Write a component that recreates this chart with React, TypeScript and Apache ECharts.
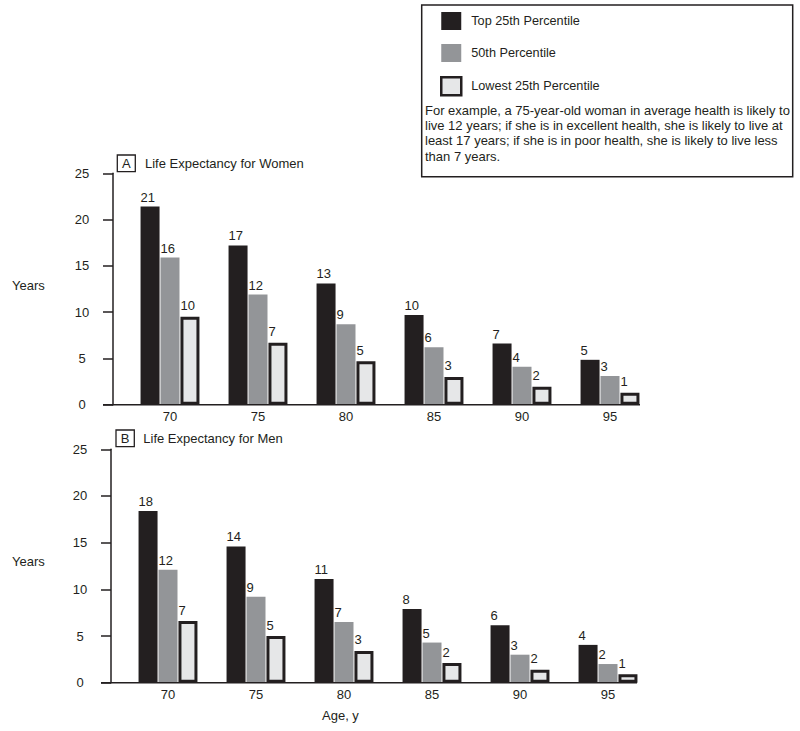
import React, { useEffect, useRef } from "react";
import * as echarts from "echarts";

const ages = ["70", "75", "80", "85", "90", "95"];

const seriesNames = ["Top 25th Percentile", "50th Percentile", "Lowest 25th Percentile"];

// bar heights
const womenTop = [21.4, 17.2, 13.1, 9.7, 6.6, 4.85];
const womenMid = [15.9, 11.9, 8.7, 6.2, 4.1, 3.1];
const womenLow = [9.5, 6.7, 4.7, 3.0, 1.95, 1.3];
const menTop = [18.4, 14.6, 11.1, 7.9, 6.15, 4.05];
const menMid = [12.1, 9.2, 6.5, 4.3, 3.0, 2.0];
const menLow = [6.6, 5.0, 3.4, 2.1, 1.4, 0.9];

// printed value labels
const womenTopLabels = [21, 17, 13, 10, 7, 5];
const womenMidLabels = [16, 12, 9, 6, 4, 3];
const womenLowLabels = [10, 7, 5, 3, 2, 1];
const menTopLabels = [18, 14, 11, 8, 6, 4];
const menMidLabels = [12, 9, 7, 5, 3, 2];
const menLowLabels = [7, 5, 3, 2, 2, 1];

const yTicks = [0, 25, 5]; // min, max, interval

const noteLines = [
  "For example, a 75-year-old woman in average health is likely to",
  "live 12 years; if she is in excellent health, she is likely to live at",
  "least 17 years; if she is in poor health, she is likely to live less",
  "than 7 years.",
];

const FONT = "'Liberation Sans', Arial, Helvetica, sans-serif";
const INK = "#231f20";
const GRAY = "#939598";
const LIGHT = "#e6e7e8";

export default function App() {
  const ref = useRef<HTMLDivElement>(null);

  useEffect(() => {
    document.body.style.margin = "0";
    const chart = echarts.init(ref.current!, null, { renderer: "svg" });

    const styles = [
      { color: INK },
      { color: GRAY },
      { color: LIGHT, borderColor: INK, borderWidth: 3 },
    ];

    const mkSeries = (
      name: string,
      idx: number,
      grid: number,
      values: number[],
      labels: number[]
    ) => ({
      type: "bar",
      name,
      xAxisIndex: grid,
      yAxisIndex: grid,
      data: values,
      barWidth: 19,
      barGap: "5%",
      itemStyle: styles[idx],
      label: {
        show: true,
        position: idx === 2 ? [0, -4.5] : [0, -3],
        align: "left",
        verticalAlign: "bottom",
        fontFamily: FONT,
        fontSize: 13,
        color: INK,
        formatter: (p: any) => String(labels[p.dataIndex]),
      },
    });

    const yAxisBase = (grid: number) => ({
      type: "value",
      gridIndex: grid,
      min: yTicks[0],
      max: yTicks[1],
      interval: yTicks[2],
      offset: 13,
      axisLine: { show: true, lineStyle: { color: INK, width: 1.5 } },
      axisTick: { show: true, length: 10, lineStyle: { color: INK, width: 1.5 } },
      splitLine: { show: false },
      axisLabel: {
        margin: 31,
        align: "center",
        fontFamily: FONT,
        fontSize: 13,
        color: INK,
        padding: [0, 0, 7, 0],
      },
    });

    const xAxisBase = (grid: number) => ({
      type: "category",
      gridIndex: grid,
      data: ages,
      axisLine: { show: false },
      axisTick: { show: false },
      axisLabel: { margin: 5, fontFamily: FONT, fontSize: 13, color: INK },
    });

    const txt = (text: string, x: number, y: number, extra: any = {}) => ({
      type: "text",
      x,
      y,
      style: {
        text,
        fontFamily: FONT,
        fontSize: 13,
        fill: INK,
        verticalAlign: "middle",
        ...extra,
      },
    });

    chart.setOption({
      animation: false,
      textStyle: { fontFamily: FONT },
      grid: [
        { left: 126, top: 173.3, width: 528, height: 231.4 },
        { left: 124, top: 449.3, width: 528, height: 233.4 },
      ],
      xAxis: [xAxisBase(0), xAxisBase(1)],
      yAxis: [yAxisBase(0), yAxisBase(1)],
      legend: {
        orient: "vertical",
        left: 440,
        top: 12,
        padding: 0,
        itemWidth: 20,
        itemHeight: 18,
        itemGap: 14,
        icon: "rect",
        selectedMode: false,
        data: [
          { name: seriesNames[0] },
          { name: seriesNames[1] },
          { name: seriesNames[2], itemStyle: { borderWidth: 2.5 } },
        ],
        textStyle: {
          fontFamily: FONT,
          fontSize: 12.7,
          color: INK,
          padding: [0, 0, 0, 5],
        },
      },
      graphic: [
        {
          type: "rect",
          shape: { x: 421.7, y: 5, width: 371, height: 171.7 },
          style: { fill: "none", stroke: INK, lineWidth: 1.5 },
        },
        {
          type: "text",
          x: 425,
          y: 102.5,
          style: {
            text: noteLines.join("\n"),
            fontFamily: FONT,
            fontSize: 13,
            lineHeight: 15.3,
            fill: INK,
          },
        },
        // panel A header
        {
          type: "rect",
          shape: { x: 117.3, y: 155, width: 18, height: 16.7 },
          style: { fill: "none", stroke: INK, lineWidth: 1.3 },
        },
        txt("A", 126.3, 163.5, { align: "center" }),
        txt("Life Expectancy for Women", 145, 163.3),
        txt("Years", 12, 285),
        // panel B header
        {
          type: "rect",
          shape: { x: 116, y: 430, width: 18.3, height: 16.7 },
          style: { fill: "none", stroke: INK, lineWidth: 1.3 },
        },
        txt("B", 125.2, 438.5, { align: "center" }),
        txt("Life Expectancy for Men", 143.3, 438.3),
        txt("Years", 12, 561.7),
        txt("Age, y", 322, 715.5),
        // baselines
        {
          type: "line",
          z: 10,
          shape: { x1: 103, y1: 404.7, x2: 640, y2: 404.7 },
          style: { stroke: INK, lineWidth: 1.5 },
        },
        {
          type: "line",
          z: 10,
          shape: { x1: 101, y1: 682.7, x2: 637, y2: 682.7 },
          style: { stroke: INK, lineWidth: 1.5 },
        },
      ],
      series: [
        mkSeries(seriesNames[0], 0, 0, womenTop, womenTopLabels),
        mkSeries(seriesNames[1], 1, 0, womenMid, womenMidLabels),
        mkSeries(seriesNames[2], 2, 0, womenLow, womenLowLabels),
        mkSeries(seriesNames[0], 0, 1, menTop, menTopLabels),
        mkSeries(seriesNames[1], 1, 1, menMid, menMidLabels),
        mkSeries(seriesNames[2], 2, 1, menLow, menLowLabels),
      ],
    });

    return () => chart.dispose();
  }, []);

  return <div ref={ref} style={{ width: 800, height: 731, background: "#fff" }} />;
}
